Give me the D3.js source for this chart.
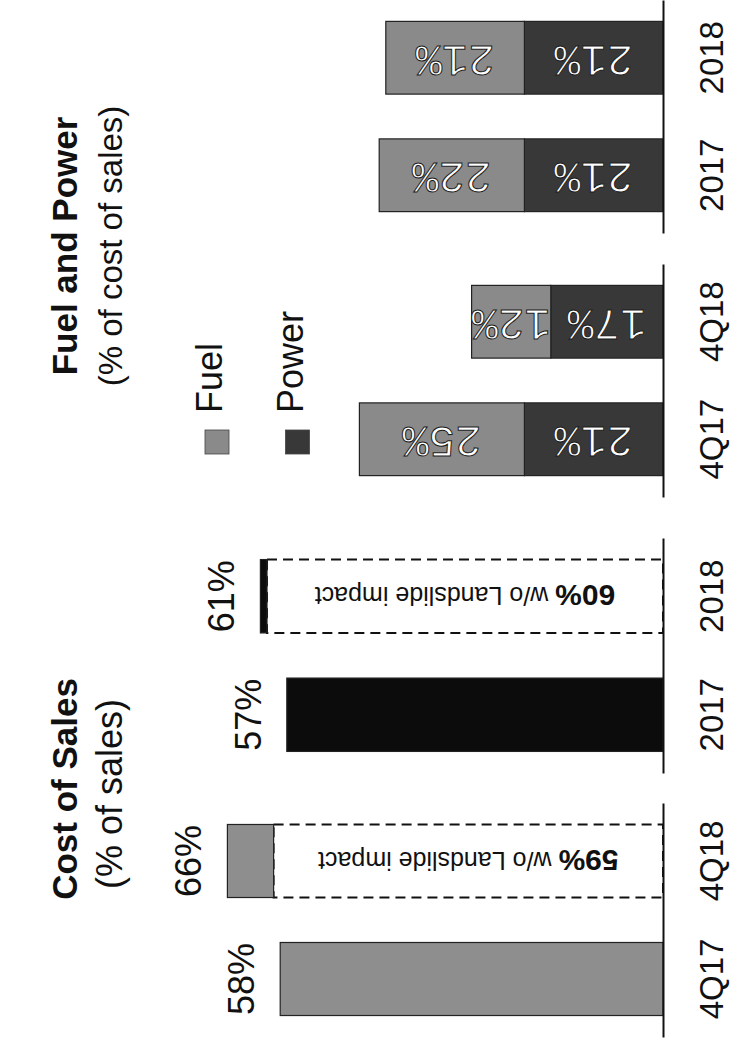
<!DOCTYPE html>
<html>
<head>
<meta charset="utf-8">
<script src="https://cdn.jsdelivr.net/npm/d3@7"></script>
<style>
  html, body { margin: 0; padding: 0; background: #fff; }
  svg { display: block; }
  text { font-family: "Liberation Sans", Arial, sans-serif; fill: #111; }
</style>
</head>
<body>
<svg id="chart" width="734" height="1044"></svg>
<script>
// ---------- data ----------
const quarterCats = ["4Q17", "4Q18"];
const yearCats = ["2017", "2018"];
const cosValues = { "4Q17": 58, "4Q18": 66, "2017": 57, "2018": 61 };
const cosWithoutLandslide = { "4Q18": 59, "2018": 60 };
const landslideNote = " w/o Landslide impact";
const seriesNames = ["Fuel", "Power"];
const powerValues = { "4Q17": 21, "4Q18": 17, "2017": 21, "2018": 21 };
const fuelValues = { "4Q17": 25, "4Q18": 12, "2017": 22, "2018": 21 };
const cosTitle = "Cost of Sales";
const cosSubtitle = "(% of sales)";
const fpTitle = "Fuel and Power";
const fpSubtitle = "(% of cost of sales)";

// ---------- layout ----------
const svg = d3.select("#chart");
const baseX = 663;
const val = d3.scaleLinear().domain([0, 100]).range([baseX, baseX - 660]);

const colFuel = "#8a8a8a", colPower = "#383838";
const colQuarter = "#8e8e8e", colYear = "#0c0c0c";
const color = d3.scaleOrdinal().domain(seriesNames).range([colFuel, colPower]);

function band(cats, bottom, top) {
  return d3.scaleBand().domain(cats).range([bottom, top])
    .paddingInner(0.381).paddingOuter(0.182);
}

const groups = [
  { panel: "cos", cats: quarterCats, y: band(quarterCats, 1037, 803), fill: colQuarter },
  { panel: "cos", cats: yearCats, y: band(yearCats, 773, 538), fill: colYear },
  { panel: "fp", cats: quarterCats, y: band(quarterCats, 497, 264) },
  { panel: "fp", cats: yearCats, y: band(yearCats, 233, 0) }
];

groups.forEach(g => {
  const layer = svg.append("g");
  const bw = g.y.bandwidth();
  if (g.panel === "cos") {
    const withNote = g.cats.filter(c => cosWithoutLandslide[c] != null);
    layer.selectAll("rect.dash").data(withNote).enter().append("rect")
      .attr("x", c => val(cosWithoutLandslide[c]))
      .attr("y", c => g.y(c))
      .attr("width", c => baseX - val(cosWithoutLandslide[c]))
      .attr("height", bw)
      .attr("fill", "#fff").attr("stroke", "#111")
      .attr("stroke-width", 2).attr("stroke-dasharray", "10,6");
    layer.selectAll("rect.bar").data(g.cats).enter().append("rect")
      .attr("x", c => val(cosValues[c]))
      .attr("y", c => g.y(c))
      .attr("width", c => val(cosWithoutLandslide[c] != null ? cosWithoutLandslide[c] : 0) - val(cosValues[c]))
      .attr("height", bw)
      .attr("fill", g.fill).attr("stroke", "#222").attr("stroke-width", 1.2);
    layer.selectAll("text.val").data(g.cats).enter().append("text")
      .attr("transform", c => `translate(${val(cosValues[c]) - 26},${g.y(c) + bw / 2}) rotate(-90)`)
      .attr("text-anchor", "middle")
      .style("font-size", "36px")
      .text(c => cosValues[c] + "%");
    const note = layer.selectAll("text.note").data(withNote).enter().append("text")
      .attr("transform", c => `translate(${(val(cosWithoutLandslide[c]) + baseX) / 2},${g.y(c) + bw / 2}) rotate(180)`)
      .attr("text-anchor", "middle")
      .attr("dominant-baseline", "central");
    note.append("tspan").style("font-weight", "bold").style("font-size", "30px")
      .text(c => cosWithoutLandslide[c] + "%");
    note.append("tspan").style("font-size", "25px").text(landslideNote);
  } else {
    const stackData = g.cats.map(c => ({ cat: c, Power: powerValues[c], Fuel: fuelValues[c] }));
    const stacked = d3.stack().keys(["Power", "Fuel"])(stackData);
    const seg = layer.selectAll("g.series").data(stacked).enter().append("g")
      .attr("fill", s => color(s.key));
    seg.selectAll("rect").data(s => s).enter().append("rect")
      .attr("x", d => val(d[1]))
      .attr("y", d => g.y(d.data.cat))
      .attr("width", d => val(d[0]) - val(d[1]))
      .attr("height", bw)
      .attr("stroke", "#222").attr("stroke-width", 1.2);
    seg.selectAll("text").data(s => s.map(d => ({ d, key: s.key }))).enter().append("text")
      .attr("transform", o => `translate(${(val(o.d[0]) + val(o.d[1])) / 2},${g.y(o.d.data.cat) + bw / 2}) rotate(180)`)
      .attr("text-anchor", "middle")
      .attr("dominant-baseline", "central")
      .style("font-family", "'Liberation Mono', monospace")
      .style("font-size", "44px")
      .style("fill", "#fff")
      .style("stroke", "#1a1a1a").style("stroke-width", "1px")
      .text(o => (o.d[1] - o.d[0]) + "%");
  }
  const ax = svg.append("g").attr("transform", `translate(${baseX},0)`)
    .call(d3.axisRight(g.y).tickSize(0).tickSizeOuter(0));
  ax.select(".domain").attr("stroke", "#111").attr("stroke-width", 2);
  ax.selectAll(".tick text")
    .attr("x", null).attr("dy", null)
    .attr("transform", "translate(60,0) rotate(-90)")
    .attr("text-anchor", "middle")
    .attr("fill", "#111")
    .style("font-family", "'Liberation Sans', Arial, sans-serif")
    .style("font-size", "33px");
});

// ---------- titles ----------
function vtext(x, y, txt, size, weight, anchor) {
  svg.append("text")
    .attr("transform", `translate(${x},${y}) rotate(-90)`)
    .attr("text-anchor", anchor || "middle")
    .style("font-size", size + "px")
    .style("font-weight", weight || "normal")
    .text(txt);
}
vtext(77, 789, cosTitle, 35, "bold");
vtext(122, 794, cosSubtitle, 36);
vtext(77, 246, fpTitle, 35, "bold");
vtext(122, 246, fpSubtitle, 33);

// ---------- legend ----------
const legendPos = { "Fuel": 217, "Power": 297.5 };
const leg = svg.append("g").selectAll("g").data(seriesNames).enter().append("g");
leg.append("rect")
  .attr("x", d => legendPos[d] - 12).attr("y", 430)
  .attr("width", 24).attr("height", 24)
  .attr("fill", d => color(d)).attr("stroke", "#444").attr("stroke-width", 0.8);
leg.append("text")
  .attr("transform", d => `translate(${legendPos[d] + 5},413) rotate(-90)`)
  .attr("text-anchor", "start")
  .style("font-size", "36px")
  .text(d => d);
</script>
</body>
</html>
